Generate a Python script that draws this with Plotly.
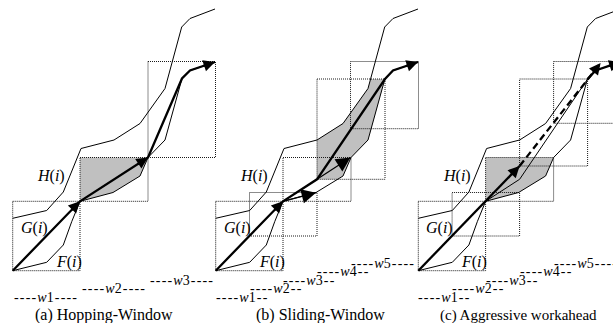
import math
import plotly.graph_objects as go

# ---------------- data (local panel coordinates, pixel space, y grows downward) -------------
panel_offsets = [0.0, 203.0, 405.6]
panel_titles = ["(a) Hopping-Window", "(b) Sliding-Window", "(c) Aggressive workahead"]
panel_title_x = [104.0, 320.0, 518.0]
panel_title_size = [16, 16, 15]
title_y = 315.0

# cumulative curves H(i) (upper) and F(i) (lower)
H_x = [12.7, 46.7, 63.3, 81.0, 114.0, 140.0, 165.0, 181.7, 190.0, 215.0]
H_y = [218.3, 210.5, 192.0, 148.5, 140.0, 123.5, 88.5, 27.0, 18.5, 9.0]
F_x = [12.7, 46.7, 63.3, 71.7, 80.0, 113.0, 140.0, 148.0, 165.0, 182.0, 190.0, 215.0]
F_y = [270.7, 262.3, 245.0, 221.7, 201.3, 192.5, 176.0, 157.5, 140.0, 78.5, 70.5, 62.0]

# windows per panel: left, right, top, bottom
win_a_x0 = [12.7, 80.0, 148.0]
win_a_x1 = [80.0, 148.0, 215.5]
win_a_top = [201.3, 157.5, 61.5]
win_a_bot = [270.7, 201.3, 157.5]

win_b_x0 = [12.7, 46.5, 80.0, 114.0, 147.5]
win_b_x1 = [80.0, 114.0, 148.0, 182.0, 215.5]
win_b_top = [201.3, 192.5, 157.5, 79.0, 61.5]
win_b_bot = [270.7, 236.0, 201.3, 179.3, 128.7]

win_c_x0 = [12.7, 46.5, 80.0, 114.0, 148.0]
win_c_x1 = [80.0, 114.0, 148.0, 182.0, 215.5]
win_c_top = [201.3, 192.5, 157.5, 79.0, 61.5]
win_c_bot = [270.7, 236.0, 201.3, 166.0, 123.3]

win_names = ["w1", "w2", "w3", "w4", "w5"]
win_label_y_a = [297.0, 288.5, 280.0]
win_label_y_bc = [297.0, 288.5, 280.0, 271.5, 263.0]

# shaded regions
shade_a_x = [80.0, 148.0, 140.0, 113.0, 80.0]
shade_a_y = [157.5, 157.5, 176.0, 192.5, 201.3]
shade_b_x = [114.0, 114.0, 140.0, 165.0, 167.6, 182.0, 165.0, 148.0, 140.0, 134.6]
shade_b_y = [179.3, 140.0, 123.5, 88.5, 79.0, 79.0, 140.0, 157.5, 176.0, 179.3]

# G(i) paths (thick), indices of vertices that get an arrowhead
Ga_x = [12.7, 80.0, 148.0, 182.0, 190.0, 215.0]
Ga_y = [270.7, 201.3, 157.5, 78.5, 70.5, 62.0]
Ga_heads = [1, 2, 5]
Gb_x = [12.7, 80.0, 114.0, 182.0, 190.0, 215.0]
Gb_y = [270.7, 201.3, 179.3, 79.0, 70.5, 62.0]
Gb_heads = [1, 5]
Gb_thin_x0 = [80.0, 114.0]
Gb_thin_y0 = [201.3, 179.3]
Gb_thin_x1 = [113.0, 147.5]
Gb_thin_y1 = [192.7, 157.5]
Gc_x = [12.7, 114.0]
Gc_y = [270.7, 166.0]
Gc_tail_x = [182.0, 190.0, 215.0]
Gc_tail_y = [79.0, 70.5, 62.0]
Gc_thin_x = [80.0, 114.0, 182.0]
Gc_thin_y = [201.3, 179.3, 79.0]
Gc_dash_x = [114.0, 195.0]
Gc_dash_y = [166.0, 63.0]

label_names = ["<i>H</i>(<i>i</i>)", "<i>G</i>(<i>i</i>)", "<i>F</i>(<i>i</i>)"]
label_x = [51.0, 34.0, 68.5]
label_y = [176.0, 227.5, 262.0]

# ---------------- drawing ----------------
FONT = "Liberation Serif"
BOX_COLOR = "#1a1a1a"
THICK = 2.3
THIN = 1.0
DASH = "-\u200a"
fig = go.Figure()
annotations = []


def sx(xs, off):
    return [v + off for v in xs]


def line(xs, ys, off, width=THIN, dash="solid", color="black"):
    fig.add_trace(go.Scatter(x=sx(xs, off), y=ys, mode="lines",
                             line=dict(color=color, width=width, dash=dash),
                             hoverinfo="skip"))


def head(x0, y0, x1, y1, off, width=THICK, size=1.0):
    dx, dy = x1 - x0, y1 - y0
    L = math.hypot(dx, dy)
    back = min(14.0, L)
    annotations.append(dict(x=x1 + off, y=y1, ax=x1 + off - dx / L * back, ay=y1 - dy / L * back,
                            xref="x", yref="y", axref="x", ayref="y", text="",
                            showarrow=True, arrowhead=2, arrowsize=size, arrowwidth=width,
                            arrowcolor="black", standoff=0))


def boxes(x0s, x1s, tops, bots, off):
    for a, b, t, u in zip(x0s, x1s, tops, bots):
        line([a, b, b, a, a], [t, t, u, u, t], off, width=1, dash="1px,1px", color=BOX_COLOR)


def shade(xs, ys, off):
    fig.add_trace(go.Scatter(x=sx(xs, off), y=ys, mode="lines", fill="toself",
                             fillcolor="#c0c0c0", line=dict(width=0), hoverinfo="skip"))


def window_labels(x0s, x1s, ys, off, centered, long_last):
    for k, (a, b, yy) in enumerate(zip(x0s, x1s, ys)):
        name = win_names[k]
        txt_name = "<i>" + name[0] + "</i>" + name[1:]
        if centered:
            txt = DASH * 4 + txt_name + "\u200a" + DASH * 4
            annotations.append(dict(x=(a + b) / 2 + off, y=yy, text=txt, showarrow=False,
                                    xanchor="center", yanchor="middle",
                                    font=dict(family=FONT, size=14, color="black")))
        else:
            tail = DASH * 4 if (long_last and k == len(x0s) - 1) else DASH * 2
            txt = DASH * 4 + txt_name + "\u200a" + tail
            annotations.append(dict(x=a + off, y=yy, text=txt, showarrow=False,
                                    xanchor="left", yanchor="middle", xshift=-2,
                                    font=dict(family=FONT, size=14, color="black")))


offA, offB, offC = panel_offsets

# shading first (below lines)
shade(shade_a_x, shade_a_y, offA)
shade(shade_b_x, shade_b_y, offB)
shade(shade_a_x, shade_a_y, offC)

# windows
boxes(win_a_x0, win_a_x1, win_a_top, win_a_bot, offA)
boxes(win_b_x0, win_b_x1, win_b_top, win_b_bot, offB)
boxes(win_c_x0, win_c_x1, win_c_top, win_c_bot, offC)

# cumulative curves in every panel
for off in panel_offsets:
    line(H_x, H_y, off)
    line(F_x, F_y, off)

# panel (a)
line(Ga_x, Ga_y, offA, width=THICK)
for i in Ga_heads:
    head(Ga_x[i - 1], Ga_y[i - 1], Ga_x[i], Ga_y[i], offA)

# panel (b)
line(Gb_x, Gb_y, offB, width=THICK)
for i in Gb_heads:
    head(Gb_x[i - 1], Gb_y[i - 1], Gb_x[i], Gb_y[i], offB)
for a, b, c, d in zip(Gb_thin_x0, Gb_thin_y0, Gb_thin_x1, Gb_thin_y1):
    line([a, c], [b, d], offB, width=1.2)
    head(a, b, c, d, offB, width=1.2, size=2.4)

# panel (c)
line(Gc_thin_x, Gc_thin_y, offC, width=1.0)
line(Gc_x, Gc_y, offC, width=THICK)
head(Gc_x[0], Gc_y[0], Gc_x[1], Gc_y[1], offC)
line(Gc_tail_x, Gc_tail_y, offC, width=THICK)
head(Gc_tail_x[-2], Gc_tail_y[-2], Gc_tail_x[-1], Gc_tail_y[-1], offC)
line(Gc_dash_x, Gc_dash_y, offC, width=THICK, dash="7px,4px")
head(Gc_dash_x[0], Gc_dash_y[0], Gc_dash_x[1], Gc_dash_y[1], offC)

# curve labels
for off in panel_offsets:
    for t, x, y in zip(label_names, label_x, label_y):
        annotations.append(dict(x=x + off, y=y, text=t, showarrow=False,
                                xanchor="center", yanchor="middle",
                                font=dict(family=FONT, size=16, color="black")))

# window labels
window_labels(win_a_x0, win_a_x1, win_label_y_a, offA, True, False)
window_labels(win_b_x0, win_b_x1, win_label_y_bc, offB, False, True)
window_labels(win_c_x0, win_c_x1, win_label_y_bc, offC, False, True)

# panel titles
for t, x, s in zip(panel_titles, panel_title_x, panel_title_size):
    annotations.append(dict(x=x, y=title_y, text=t, showarrow=False,
                            xanchor="center", yanchor="middle",
                            font=dict(family=FONT, size=s, color="black")))

fig.update_layout(
    width=613, height=323,
    margin=dict(l=0, r=0, t=0, b=0),
    paper_bgcolor="white", plot_bgcolor="white",
    showlegend=False,
    xaxis=dict(range=[0, 613], visible=False, fixedrange=True),
    yaxis=dict(range=[323, 0], visible=False, fixedrange=True),
    annotations=annotations,
)

fig.write_html("out.html", config={"displayModeBar": False},
               post_script="document.body.style.margin='0px';document.body.style.overflow='hidden';")
